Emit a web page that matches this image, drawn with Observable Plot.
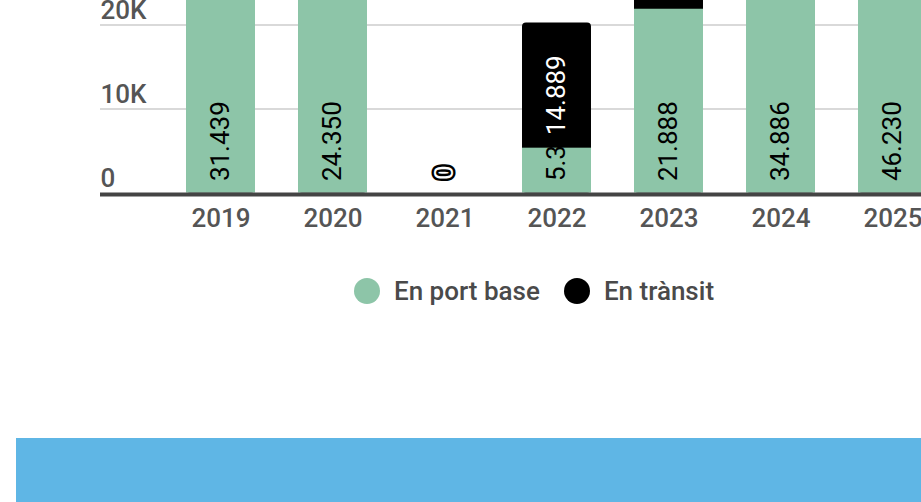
<!DOCTYPE html>
<html><head><meta charset="utf-8">
<script src="https://cdn.jsdelivr.net/npm/d3@7"></script>
<script src="https://cdn.jsdelivr.net/npm/@observablehq/plot@0.6"></script>
<style>
html,body{margin:0;padding:0;background:#fff}
body{overflow:hidden;width:921px;height:502px;position:relative;font-family:Roboto,"Noto Sans",sans-serif}
#chart svg{display:block;overflow:hidden}
.legend{position:absolute;left:354px;top:276px;height:30px;display:flex;align-items:center;font-size:26px;font-weight:500;color:#4a4a4a;white-space:nowrap}
.item{display:flex;align-items:center;margin-right:24px}
.sw{width:26px;height:26px;border-radius:50%;display:inline-block;margin-right:14px}
.band{position:absolute;left:16px;top:438px;right:0;bottom:0;background:#5fb6e5}
</style></head><body>
<div id="chart"></div>
<div class="legend" id="legend"></div>
<div class="band"></div>
<script>
const years = ["2019", "2020", "2021", "2022", "2023", "2024", "2025"];
const enPortBase = [31439, 24350, 0, 5347, 21888, 34886, 46230];
const enTransit = [0, 0, 0, 14889, 3000, 0, 0];
const seriesNames = ["En port base", "En trànsit"];
const seriesColors = ["#8dc5a8", "#000000"];
const yTicks = [0, 10000, 20000];
const yTickLabels = ["0", "10K", "20K"];

const fmt = d3.formatLocale({decimal: ",", thousands: ".", grouping: [3], currency: ["", "€"]}).format(",");

const data = years.map((year, i) => ({
  year,
  base: enPortBase[i],
  transit: enTransit[i],
  baseStart: 0,
  transitStart: enPortBase[i],
  total: enPortBase[i] + enTransit[i]
}));

const chart = Plot.plot({
  width: 921,
  height: 240,
  marginTop: 0,
  marginLeft: 100,
  marginRight: 0,
  marginBottom: 47.5,
  style: {fontFamily: "Roboto, 'Noto Sans', sans-serif", background: "#fff"},
  x: {domain: years, range: [143, 970], padding: 0.384, round: false, label: null},
  y: {domain: [0, 10000], range: [192.6, 108.6], axis: null},
  marks: [
    Plot.ruleY(yTicks.filter(d => d > 0), {stroke: "#d9d9d9", strokeWidth: 2}),
    Plot.barY(data, {x: "year", y1: "baseStart", y2: "total", fill: seriesColors[1], rx: 4}),
    Plot.barY(data, {x: "year", y1: "baseStart", y2: "base", fill: seriesColors[0]}),
    Plot.ruleY([0], {stroke: "#444", strokeWidth: 4, dy: 1.5}),
    Plot.axisX({tickSize: 0, tickPadding: 16, fontSize: 26, fill: "#555", fontWeight: 500, label: null}),
    Plot.text(yTicks, {y: d => d, text: (d, i) => yTickLabels[i], frameAnchor: "left", textAnchor: "start", lineAnchor: "bottom", dy: -6.5, fill: "#555", fontSize: 26, fontWeight: 500}),
    Plot.text(data, {x: "year", y: "baseStart", text: d => fmt(d.base), rotate: -90, textAnchor: "start", lineAnchor: "middle", dy: -12, fill: "#000", fontSize: 26, fontWeight: 400}),
    Plot.text(data, {x: "year", y: "transitStart", text: d => fmt(d.transit), rotate: -90, textAnchor: "start", lineAnchor: "middle", dy: -13, fill: "#fff", stroke: "#000", strokeWidth: 5, fontSize: 26, fontWeight: 400})
  ]
});
document.getElementById("chart").appendChild(chart);

const legend = document.getElementById("legend");
seriesNames.forEach((name, i) => {
  const item = document.createElement("span");
  item.className = "item";
  const sw = document.createElement("span");
  sw.className = "sw";
  sw.style.background = seriesColors[i];
  item.appendChild(sw);
  item.appendChild(document.createTextNode(name));
  legend.appendChild(item);
});
</script>
</body></html>
